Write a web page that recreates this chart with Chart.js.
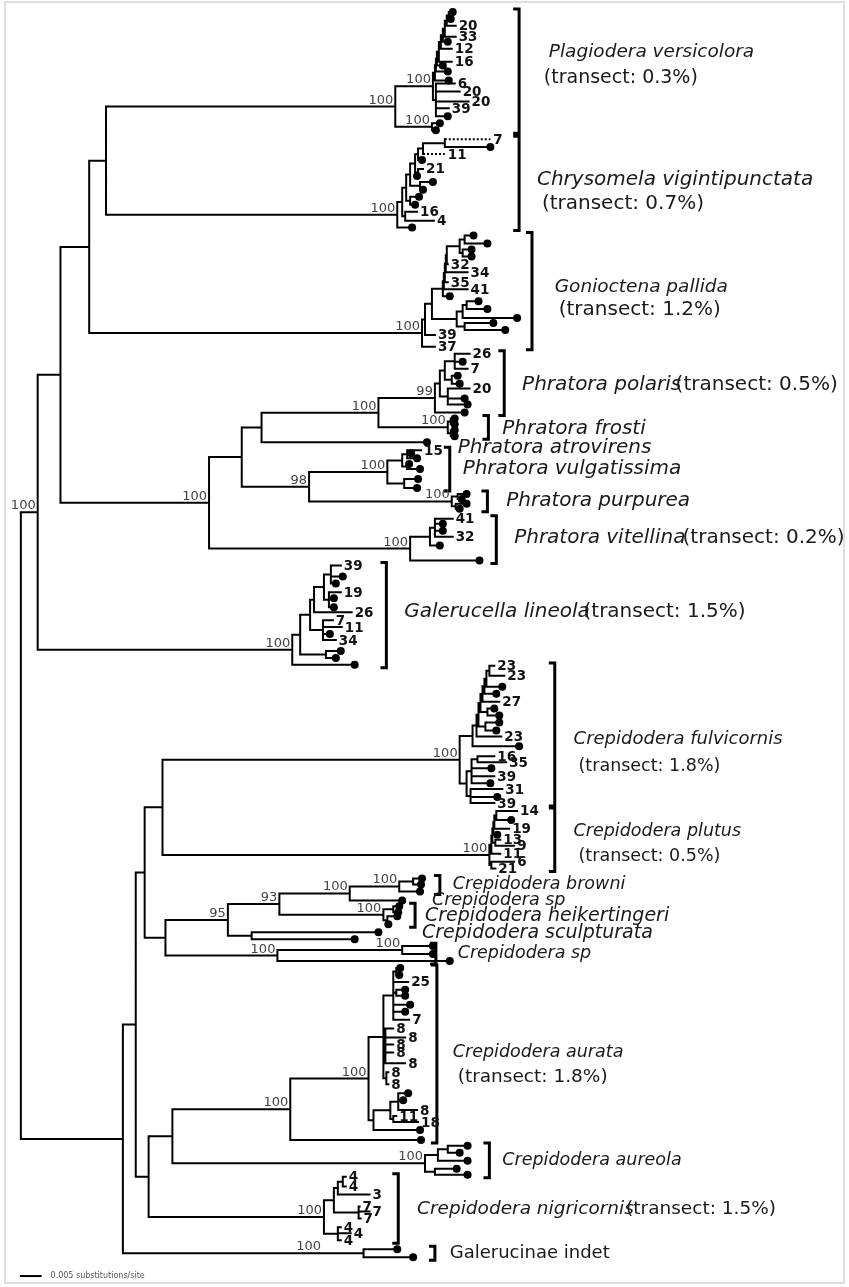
<!DOCTYPE html>
<html>
<head>
<meta charset="utf-8">
<script src="https://cdn.jsdelivr.net/npm/chart.js@4.4.1/dist/chart.umd.min.js"></script>
<style>
html, body { margin: 0; padding: 0; background: #fff; }
#wrap { position: relative; width: 849px; height: 1287px; }
#frame { position: absolute; left: 4px; top: 1px; width: 837px; height: 1279px; border: 2px solid #e0e0da; pointer-events: none; }
</style>
</head>
<body>
<div id="wrap"><canvas id="tree" width="849" height="1287"></canvas><div id="frame"></div></div>
<script>
// Tree data. x = depth from the root (22 units = 0.005 substitutions/site), y = row of the tip.
// Tip: [depth, row] -> dotted tip, [depth, row, 'n'] -> numbered tip, 4th item 'dash' for a dotted branch.
function N(x, kids, bs) { return { x: x, kids: kids, bs: bs }; }
// ladder (caterpillar) node: xs[0] joins kids[0] and kids[1], each next node adds one more kid
function lad(xs, kids) {
    let node = N(xs[0], [kids[0], kids[1]]);
    for (let i = 1; i < xs.length; i++) node = N(xs[i], [node, kids[i + 1]]);
    return node;
}

const plagiodera = N(378, [
    N(416, [
        lad([432, 430, 428, 426, 424, 422, 420, 419, 418],
            [[436, 8], [434, 15], [439, 22, '20'], [439, 33, '33'], [431, 38], [435, 45, '12'], [435, 58, '16'], [426, 62], [431, 68], [432, 77]]),
        N(419, [[438, 80, '6'], [443, 88, '20'], [452, 98, '20'], [432, 105, '39'], [431, 113]])
    ], '100'),
    N(415, [[423, 120], [419, 127]], '100')
], '100');

const chrysomela = N(380, [
    N(385, [
        N(389, [
            N(393, [
                N(398, [
                    N(401, [
                        N(406, [N(428, [[474, 136, '7', 'dash'], [474, 144]]), [428, 151, '11', 'dash']]),
                        [405, 157]
                    ]),
                    N(401, [[406, 166, '21'], [400, 173]])
                ]),
                N(403, [[416, 179], [406, 187]])
            ]),
            N(393, [[402, 194], [398, 202]])
        ]),
        N(388, [[400, 209, '16'], [417, 218, '4']])
    ]),
    [395, 225]
], '100');

const gonioctena = N(405, [
    N(408, [
        N(415, [
            lad([448, 443, 430, 429, 428, 427, 426],
                [[457, 233], [471, 241], N(446, [[455, 247], [455, 254]]), [431, 262, '32'], [451, 270, '34'], [431, 280, '35'], [451, 287, '41'], [433, 294]]),
            N(440, [N(446, [N(450, [[462, 299], [471, 307]]), [501, 316]]), N(448, [[477, 321], [489, 328]])])
        ]),
        [418, 333, '39']
    ]),
    [418, 345, '37']
], '100');

const polaris = N(418, [
    N(423, [
        N(428, [N(438, [[453, 352, '26'], [446, 360], [451, 367, '7']]), N(435, [[441, 374], [443, 382]])]),
        N(431, [[453, 387, '20'], [448, 397], [451, 403]])
    ]),
    [448, 411]
], '99');
const frosti = N(431, [N(434, [[438, 417], [438, 423]]), N(434, [[438, 429], [438, 435]])], '100');
const vulgatissima = N(370, [
    N(385, [N(390, [[404, 449, '15'], [394, 452], [400, 457]]), N(390, [[392, 463], [403, 468]])]),
    N(387, [[401, 478], [400, 487]])
], '100');
const purpurea = N(435, [N(441, [[450, 493], [445, 498]]), N(439, [[450, 503], [443, 508]])], '100');
const vitellina = N(393, [
    N(413, [N(418, [[436, 518, '41'], [426, 523], [426, 530], [436, 536, '32']]), [423, 545]]),
    [463, 560]
], '100');
const phratora = N(190, [
    N(223, [
        N(243, [N(361, [polaris, frosti], '100'), [410, 441]]),
        N(291, [vulgatissima, purpurea], '98')
    ]),
    vitellina
], '100');

const galerucella = N(274, [
    N(282, [
        N(292, [
            N(296, [
                N(306, [N(313, [[323, 565, '39'], [325, 576], [318, 583]]), N(311, [[323, 592, '19'], [316, 598], [316, 607]])]),
                [334, 612, '26']
            ]),
            N(305, [[315, 620, '7'], [324, 627, '11'], [312, 634], [318, 640, '34']])
        ]),
        N(308, [[323, 651], [318, 658]])
    ]),
    [337, 665]
], '100');

const fulvicornis = N(443, [
    lad([473, 470, 468, 466, 464, 462, 460, 456],
        [[478, 666, '23'], [488, 676, '23'], [486, 687], [480, 694], [483, 702, '27'],
         N(471, [[478, 709], [483, 716]]), N(469, [[483, 723], [480, 731]]), [485, 737, '23'], [503, 747]]),
    N(450, [
        N(455, [N(461, [[478, 757, '16'], [490, 763, '35']]), [475, 769], [478, 777, '39'], [474, 784]]),
        N(454, [[486, 790, '31'], [481, 798], [478, 804, '39']])
    ])
], '100');

const plutus = N(473, [
    lad([480, 478, 477, 476, 475],
        [[501, 812, '14'], [495, 821], [493, 830, '19'], [481, 836], N(479, [[484, 841, '13'], [498, 847, '9']]), [484, 855, '11']]),
    N(475, [[498, 863, '6'], [479, 870, '21']])
], '100');

const browni = N(382, [N(396, [[405, 880], [404, 886]]), [403, 893]], '100');
const heikertingeri = N(366, [N(376, [[382, 908], [381, 914]]), N(370, [[380, 918], [371, 926]])], '100');
const sculpturata = N(233, [[361, 934], [337, 941]]);
const crepSp = N(259, [N(385, [[416, 948], [416, 956]], '100'), [433, 963]], '100');

const aurata = N(272, [
    N(351, [
        N(366, [
            N(376, [N(379, [[383, 970], [382, 977]]), [391, 984, '25'], N(379, [[388, 992], [388, 998]]), [393, 1007], [388, 1014], [392, 1022, '7']]),
            N(368, [[376, 1031, '8'], [388, 1040, '8'], [376, 1047, '8'], [376, 1055, '8'], [388, 1066, '8']]),
            N(369, [[371, 1075, '8'], [371, 1087, '8']])
        ]),
        N(356, [
            N(373, [N(381, [[391, 1096], [386, 1103], [400, 1113, '8']]), N(376, [[379, 1119, '11'], [401, 1125, '18']])]),
            [403, 1133]
        ])
    ], '100'),
    [404, 1143]
], '100');

const aureola = N(408, [N(421, [N(431, [[451, 1149], [443, 1156]]), [451, 1164]]), N(418, [[440, 1172], [451, 1178]])], '100');

const nigricornis = N(306, [
    N(316, [
        N(320, [N(325, [[328, 1180, '4'], [328, 1190, '4']]), [352, 1198, '3']]),
        N(341, [[342, 1210, '7'], [352, 1215, '7'], [343, 1222, '7']])
    ]),
    N(320, [[323, 1231, '4'], [333, 1237, '4'], [323, 1244, '4']])
], '100');

const galerucinae = N(346, [[380, 1253], [396, 1261]], ['100', -41]);

const tree = N(0, [
    N(17, [
        N(40, [
            N(69, [N(86, [plagiodera, chrysomela]), gonioctena]),
            phratora
        ]),
        galerucella
    ], '100'),
    N(103, [
        N(116, [
            N(125, [
                N(143, [fulvicornis, plutus]),
                N(146, [N(209, [N(261, [N(332, [browni, [385, 902]], '100'), heikertingeri], '93'), sculpturata], '95'), crepSp])
            ]),
            N(129, [N(153, [aurata, aureola]), nigricornis])
        ]),
        galerucinae
    ])
]);

// clade brackets: [clade, depth of the bracket]
const brackets = [
    [plagiodera, 503], [chrysomela, 503], [gonioctena, 516], [polaris, 488], [frosti, 472],
    [vulgatissima, 433], [purpurea, 471], [vitellina, 480], [galerucella, 369],
    [fulvicornis, 539], [plutus, 539], [browni, 423], [heikertingeri, 398], [crepSp, 419],
    [aurata, 420], [aureola, 473], [nigricornis, 381], [galerucinae, 418]
];

// clade names: [text, depth, row, italic, font px]
const cladeNames = [
    ['Plagiodera versicolora', 533, 48, true, 18.5], ['(transect: 0.3%)', 528, 75, false, 19],
    ['Chrysomela vigintipunctata', 521, 177, true, 20], ['(transect: 0.7%)', 526, 201, false, 20],
    ['Gonioctena pallida', 539, 285, true, 18.5], ['(transect: 1.2%)', 543, 308, false, 20],
    ['Phratora polaris', 506, 383, true, 20], ['(transect: 0.5%)', 661, 383, false, 20],
    ['Phratora frosti', 486, 427, true, 20],
    ['Phratora atrovirens', 441, 447, true, 20],
    ['Phratora vulgatissima', 446, 468, true, 20],
    ['Phratora purpurea', 490, 500, true, 20],
    ['Phratora vitellina', 498, 537, true, 20], ['(transect: 0.2%)', 668, 537, false, 20],
    ['Galerucella lineola', 387, 612, true, 20], ['(transect: 1.5%)', 568, 612, false, 20],
    ['Crepidodera fulvicornis', 558, 740, true, 18], ['(transect: 1.8%)', 563, 767, false, 17.5],
    ['Crepidodera plutus', 558, 833, true, 17.5], ['(transect: 0.5%)', 563, 858, false, 17.5],
    ['Crepidodera browni', 436, 886, true, 17.5],
    ['Crepidodera sp', 415, 902, true, 17.5],
    ['Crepidodera heikertingeri', 408, 918, true, 19],
    ['Crepidodera sculpturata', 405, 935, true, 19],
    ['Crepidodera sp', 441, 955, true, 17.5],
    ['Crepidodera aurata', 436, 1055, true, 17.5], ['(transect: 1.8%)', 441, 1080, false, 18.5],
    ['Crepidodera aureola', 486, 1164, true, 17.5],
    ['Crepidodera nigricornis', 400, 1213, true, 18.5], ['(transect: 1.5%)', 611, 1213, false, 18.5],
    ['Galerucinae indet', 433, 1257, false, 18]
];

const scaleBar = { from: -1, length: 22, row: 1280, text: '0.005 substitutions/site' };

// ---- layout: internal node row = middle of first and last child ----
function place(n) {
    if (Array.isArray(n)) return { x: n[0], y: n[1], lab: n[2], style: n[3], tip: true };
    const kids = n.kids.map(place);
    n.placed = { x: n.x, y: (kids[0].y + kids[kids.length - 1].y) / 2, kids: kids, bs: n.bs };
    return n.placed;
}
place(tree);

function tipRange(p, acc) {
    if (p.tip) { acc[0] = Math.min(acc[0], p.y); acc[1] = Math.max(acc[1], p.y); }
    else p.kids.forEach(k => tipRange(k, acc));
    return acc;
}

const branchPts = [], dashPts = [], dotPts = [], tipLabels = [], bsLabels = [];
const GAP = { x: NaN, y: NaN };
function walk(p) {
    if (p.tip) {
        if (p.lab) tipLabels.push(p); else if (p.lab !== null) dotPts.push({ x: p.x, y: p.y });
        return;
    }
    const first = p.kids[0], last = p.kids[p.kids.length - 1];
    branchPts.push({ x: p.x, y: first.y }, { x: p.x, y: last.y }, GAP);
    p.kids.forEach(k => {
        const target = k.style === 'dash' ? dashPts : branchPts;
        target.push({ x: p.x, y: k.y }, { x: k.x, y: k.y }, GAP);
        walk(k);
    });
    if (p.bs) bsLabels.push(p);
}
walk(tree.placed);

const bracketPts = [];
brackets.forEach(([clade, bx]) => {
    const r = tipRange(clade.placed, [Infinity, -Infinity]);
    bracketPts.push({ x: bx - 6, y: r[0] - 3 }, { x: bx, y: r[0] - 3 }, { x: bx, y: r[1] + 3 }, { x: bx - 6, y: r[1] + 3 }, GAP);
});

const textPlugin = {
    id: 'treeText',
    afterDatasetsDraw(chart) {
        const ctx = chart.ctx, xs = chart.scales.x, ys = chart.scales.y;
        ctx.save();
        ctx.textBaseline = 'middle';
        ctx.fillStyle = '#111';
        ctx.font = 'bold 13.5px "DejaVu Sans", Verdana, sans-serif';
        ctx.textAlign = 'left';
        tipLabels.forEach(t => ctx.fillText(t.lab, xs.getPixelForValue(t.x) + 3, ys.getPixelForValue(t.y) + 1));

        ctx.font = '13px "DejaVu Sans", Verdana, sans-serif';
        ctx.fillStyle = '#444';
        ctx.textAlign = 'right';
        ctx.textBaseline = 'alphabetic';
        bsLabels.forEach(n => {
            const txt = Array.isArray(n.bs) ? n.bs[0] : n.bs;
            const dx = Array.isArray(n.bs) ? n.bs[1] : 0;
            ctx.fillText(txt, xs.getPixelForValue(n.x + dx) - 2, ys.getPixelForValue(n.y) - 3);
        });

        ctx.textAlign = 'left';
        ctx.textBaseline = 'middle';
        ctx.fillStyle = '#1a1a1a';
        cladeNames.forEach(([txt, x, y, it, size]) => {
            ctx.font = (it ? 'italic ' : '') + size + 'px "DejaVu Sans", Verdana, sans-serif';
            ctx.fillText(txt, xs.getPixelForValue(x), ys.getPixelForValue(y));
        });

        ctx.font = '8px "DejaVu Sans", Verdana, sans-serif';
        ctx.fillStyle = '#555';
        ctx.fillText(scaleBar.text, xs.getPixelForValue(scaleBar.from + scaleBar.length + 9), ys.getPixelForValue(scaleBar.row));
        ctx.restore();
    }
};

new Chart(document.getElementById('tree'), {
    type: 'scatter',
    data: {
        datasets: [{
            label: 'branches',
            data: branchPts,
            showLine: true,
            borderColor: '#000',
            borderWidth: 2,
            borderCapStyle: 'square',
            pointRadius: 0,
            spanGaps: false
        }, {
            label: 'dotted branches',
            data: dashPts,
            showLine: true,
            borderColor: '#000',
            borderWidth: 2,
            borderDash: [2, 2],
            pointRadius: 0,
            spanGaps: false
        }, {
            label: 'tips',
            data: dotPts,
            backgroundColor: '#000',
            borderColor: '#000',
            pointRadius: 4,
            pointBorderWidth: 0
        }, {
            label: 'brackets',
            data: bracketPts,
            showLine: true,
            borderColor: '#000',
            borderWidth: 3,
            pointRadius: 0,
            spanGaps: false
        }, {
            label: 'scale bar',
            data: [{ x: scaleBar.from, y: scaleBar.row }, { x: scaleBar.from + scaleBar.length, y: scaleBar.row }],
            showLine: true,
            borderColor: '#000',
            borderWidth: 2,
            pointRadius: 0
        }]
    },
    options: {
        responsive: false,
        animation: false,
        devicePixelRatio: 1,
        events: [],
        layout: { padding: 0 },
        plugins: { legend: { display: false }, tooltip: { enabled: false } },
        scales: {
            x: { type: 'linear', min: -17, max: 832, display: false },
            y: { type: 'linear', min: 0, max: 1287, reverse: true, display: false }
        }
    },
    plugins: [textPlugin]
});
</script>
</body>
</html>
